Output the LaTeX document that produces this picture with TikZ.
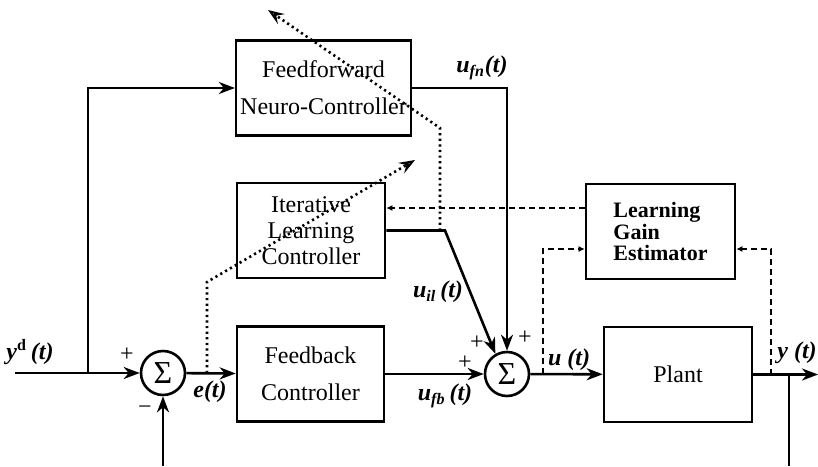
\documentclass[tikz,border=0pt]{standalone}
\usepackage{fontspec}
\setmainfont{Liberation Serif}
\usetikzlibrary{arrows.meta}

\tikzset{
  block/.style={draw, line width=1.3pt, minimum width=#1, minimum height=47.5pt,
    align=center, inner sep=2pt, font=\fontsize{12}{18.5}\selectfont},
  sumnode/.style={draw, circle, line width=1.3pt, minimum size=22pt, inner sep=0pt,
    font=\fontsize{16}{16}\selectfont},
  sig/.style={line width=1.3pt, -{Stealth[length=8pt,width=6pt,inset=2.5pt]}},
  wire/.style={line width=1.3pt},
  probe/.style={line width=1.3pt, dash pattern=on 1.1pt off 1.7pt,
    -{Stealth[length=8pt,width=6pt,inset=3pt,open,line width=1pt]}},
  est/.style={line width=0.7pt, dash pattern=on 3pt off 2pt,
    -{Latex[length=3pt,width=3pt]}},
  lab/.style={font=\bfseries\itshape\fontsize{12}{13}\selectfont, inner sep=1pt},
  sgn/.style={font=\fontsize{12}{12}\selectfont, inner sep=0pt}
}

\begin{document}
\begin{tikzpicture}[x=0.5pt, y=-0.5pt]
  \useasboundingbox (0,0) rectangle (818,466);

  % blocks
  \node[block=86.5pt] (ffnc) at (323.5,88) {Feedforward\\Neuro-Controller};
  \node[block=74pt, font=\fontsize{12}{13}\selectfont] (ilc) at (311,230.5) {Iterative\\Learning\\Controller};
  \node[block=73.5pt] (fbc) at (310.5,374) {Feedback\\Controller};
  \node[block=74pt] (plant) at (678,374.5) {Plant};
  \node[block=74.5pt, align=left, font=\bfseries\fontsize{11}{10.8}\selectfont] (lge) at (660.5,231.5) {Learning\\Gain\\Estimator};

  % summing junctions
  \node[sumnode] (s1) at (163,373) {Σ};
  \node[sumnode] (s2) at (507,374) {Σ};

  % free ends and branch points
  \coordinate (yd) at (15,373);
  \coordinate (br1) at (88,373);
  \coordinate (fbin) at (163,466);
  \coordinate (kil) at (445,230.5);
  \coordinate (yout) at (818,374.5);
  \coordinate (br2) at (789,374.5);
  \coordinate (fbout) at (789,466);

  % main signal paths
  \draw[sig] (yd) -- (s1);
  \draw[sig] (br1) |- (ffnc.west);
  \draw[sig] (fbin) -- (s1.south);
  \draw[sig] (s1) -- (fbc);
  \draw[sig] (fbc) -- (s2);
  \draw[sig] (ffnc.east) -| (s2.north);
  \draw[sig] (ilc.east) -- (kil) -- (s2.120);
  \draw[sig] (s2) -- (plant);
  \draw[sig] (plant) -- (yout);
  \draw[wire] (br2) -- (fbout);

  % learning gain estimator (dashed)
  \coordinate (tapu) at (543,374);
  \coordinate (tapy) at (771,374.5);
  \draw[est] (lge.west |- 0,208) -- (ilc.east |- 0,208);
  \draw[est] (tapu) |- (lge.west |- 0,249);
  \draw[est] (tapy) |- (lge.east |- 0,249);

  % tuning probes (dotted)
  \coordinate (tape) at (207,373);
  \coordinate (pe1) at (207,282);
  \coordinate (pe2) at (415,160);
  \draw[probe] (tape) -- (pe1) -- (pe2);
  \coordinate (tapil) at (440,230.5);
  \coordinate (pf1) at (440,128);
  \coordinate (pf2) at (268,10);
  \draw[probe] (tapil) -- (pf1) -- (pf2);

  % signal labels
  \node[lab] (lyd) at (30,352) {y\textsuperscript{\upshape d}\,(t)};
  \node[lab] (le) at (210,392) {e(t)};
  \node[lab] (lfn) at (482,68) {u\textsubscript{fn}(t)};
  \node[lab] (lil) at (438,292) {u\textsubscript{il}\,(t)};
  \node[lab] (lfb) at (445,396) {u\textsubscript{fb}\,(t)};
  \node[lab] (lu) at (569,360) {u (t)};
  \node[lab] (ly) at (797,353) {y (t)};

  % signs
  \node[sgn] (p1) at (127,355) {+};
  \node[sgn] (m1) at (145,410) {−};
  \node[sgn] (p2) at (465,363) {+};
  \node[sgn] (p3) at (477,343) {+};
  \node[sgn] (p4) at (525,338) {+};
\end{tikzpicture}
\end{document}
